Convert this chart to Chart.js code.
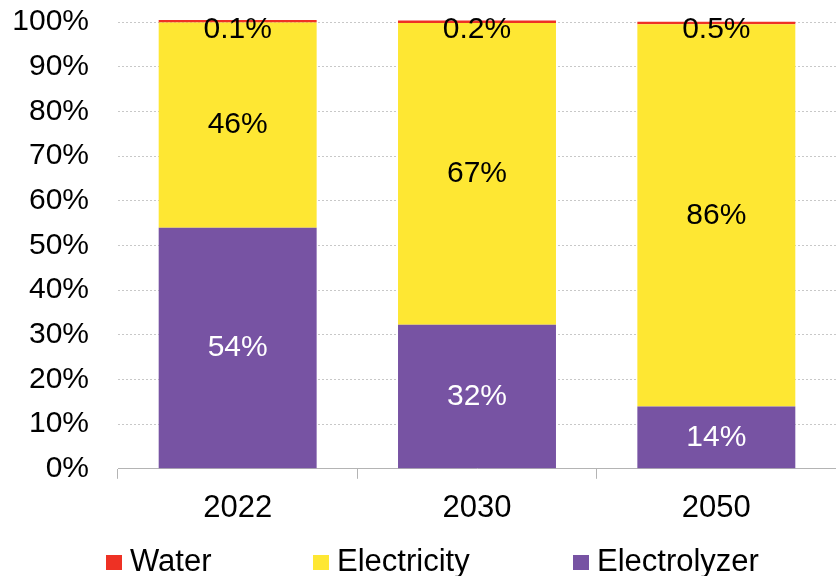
<!DOCTYPE html>
<html>
<head>
<meta charset="utf-8">
<script src="https://cdn.jsdelivr.net/npm/chart.js@4/dist/chart.umd.min.js"></script>
<style>
  html, body { margin: 0; padding: 0; background: #fff; }
  #wrap { position: relative; width: 836px; height: 576px; }
  .item {
    position: absolute; top: 544px; height: 34px; display: flex; align-items: center;
    font-family: "Liberation Sans", Arial, sans-serif; font-size: 31px; color: #000; white-space: nowrap;
  }
  .box { width: 16px; height: 15px; margin-right: 8px; margin-top: 2px; }
</style>
</head>
<body>
<div id="wrap">
  <canvas id="c" width="836" height="576"></canvas>
</div>
<script>
// Share of levelised hydrogen cost by component, per year (percent labels)
const years = ['2022', '2030', '2050'];
const electrolyzer = [54, 32, 14];
const electricity = [46, 67, 86];
const water = [0.1, 0.2, 0.5];
const yTicks = [0, 10, 20, 30, 40, 50, 60, 70, 80, 90, 100];

const seriesNames = ['Electrolyzer', 'Electricity', 'Water'];
const seriesColors = ['#7753A3', '#FEE733', '#EE3124'];
const labelColors = ['#ffffff', '#000000', '#000000'];
const raw = [electrolyzer, electricity, water];

// 100% stacking: each column is scaled to its own total
const totals = years.map((_, i) => raw.reduce((s, arr) => s + arr[i], 0));
const datasets = raw.map((arr, k) => ({
  label: seriesNames[k],
  data: arr.map((v, i) => v / totals[i] * 100),
  rawValues: arr,
  backgroundColor: seriesColors[k],
  borderWidth: 0,
  categoryPercentage: 1,
  barPercentage: 0.66,
  minBarLength: k === 2 ? 2.5 : 0,
  clip: k === 2 ? false : undefined,
  labelColor: labelColors[k]
}));

const FONT = '"Liberation Sans", Arial, sans-serif';

// Writes each segment's stated value inside it
const valueLabels = {
  id: 'valueLabels',
  afterDatasetsDraw(chart) {
    const ctx = chart.ctx;
    ctx.save();
    ctx.font = '30px ' + FONT;
    ctx.textAlign = 'center';
    ctx.textBaseline = 'middle';
    chart.data.datasets.forEach((ds, k) => {
      const meta = chart.getDatasetMeta(k);
      meta.data.forEach((bar, i) => {
        const v = ds.rawValues[i];
        const txt = (v < 1 ? v.toFixed(1) : v.toFixed(0)) + '%';
        let y = (bar.y + bar.base) / 2;
        if (ds.label === 'Water') y = chart.chartArea.top + 8;
        ctx.fillStyle = ds.labelColor;
        ctx.fillText(txt, bar.x, y);
      });
    });
    ctx.restore();
  }
};

new Chart(document.getElementById('c'), {
  type: 'bar',
  data: { labels: years, datasets },
  options: {
    responsive: false,
    animation: false,
    layout: { padding: { top: 22, right: 0, bottom: 38, left: 0 } },
    plugins: { legend: { display: false }, tooltip: { enabled: false } },
    scales: {
      x: {
        stacked: true,
        offset: true,
        grid: { display: true, drawOnChartArea: false, drawTicks: true, tickLength: 10, color: '#b4b4b4', offset: true },
        border: { display: true, color: '#b4b4b4', width: 1 },
        ticks: { font: { family: FONT, size: 31 }, color: '#000', padding: 11, maxRotation: 0 },
        afterFit(scale) { scale.paddingLeft = 0; scale.paddingRight = 0; }
      },
      y: {
        stacked: true,
        min: 0,
        max: 100,
        afterBuildTicks(scale) { scale.ticks = yTicks.map(v => ({ value: v })); },
        grid: { color: '#c8c8c8', drawTicks: false, lineWidth: 1 },
        border: { display: false, dash: [2, 2] },
        ticks: {
          font: { family: FONT, size: 30 }, color: '#000', padding: 29,
          callback: v => v + '%'
        },
        afterFit(scale) { scale.width = 118; scale.paddingTop = 0; scale.paddingBottom = 0; }
      }
    }
  },
  plugins: [valueLabels]
});

// Legend below the plot
const wrap = document.getElementById('wrap');
const legendLeft = { Water: 106, Electricity: 313, Electrolyzer: 573 };
[2, 1, 0].forEach(k => {
  const item = document.createElement('div');
  item.className = 'item';
  item.style.left = legendLeft[seriesNames[k]] + 'px';
  const box = document.createElement('span');
  box.className = 'box';
  box.style.background = seriesColors[k];
  const txt = document.createElement('span');
  txt.textContent = seriesNames[k];
  item.appendChild(box);
  item.appendChild(txt);
  wrap.appendChild(item);
});
</script>
</body>
</html>
